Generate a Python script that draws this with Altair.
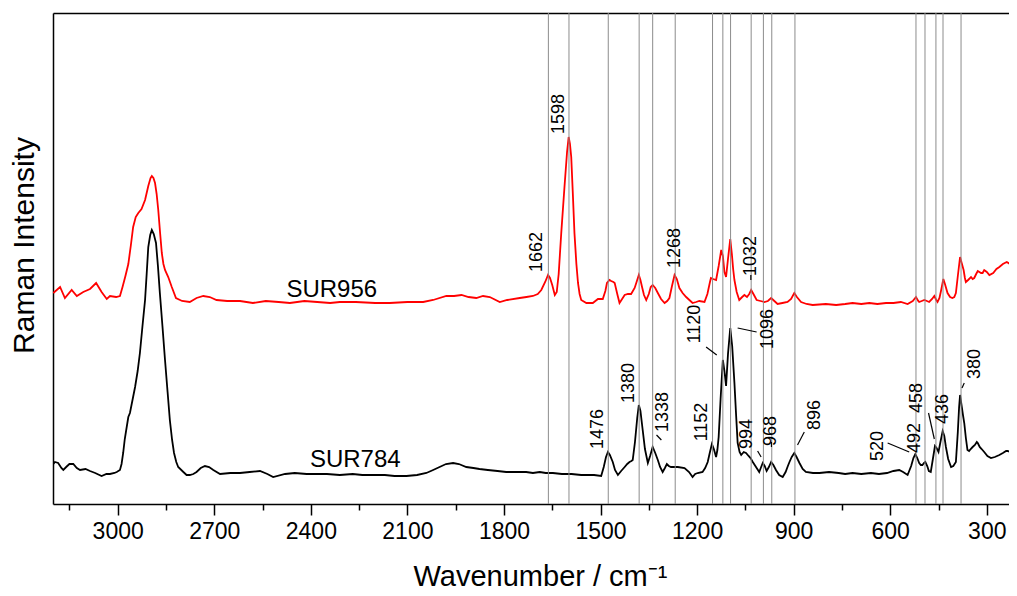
import altair as alt
import pandas as pd

FONT = "Liberation Sans, Arial, Helvetica, sans-serif"

# ---------------- spectra (wavenumber / cm-1, intensity in arbitrary units) ----------------
red_wn = [3200, 3179, 3164, 3143, 3127, 3107, 3086, 3067, 3050, 3034, 3024, 3005, 2993, 2985, 2976,
          2967, 2959, 2952, 2944, 2936, 2926, 2915, 2905, 2898, 2894, 2889, 2884, 2879, 2874, 2868,
          2863, 2858, 2853, 2843, 2832, 2819, 2800, 2776, 2755, 2734, 2714, 2693, 2660, 2620, 2580,
          2540, 2500, 2465, 2420, 2380, 2340, 2310, 2260, 2200, 2155, 2100, 2051, 2020, 1979, 1955,
          1932, 1910, 1886, 1865, 1844, 1813, 1790, 1751, 1730, 1710, 1695, 1684, 1672, 1663, 1657,
          1650, 1642, 1636, 1630, 1622, 1612, 1604, 1599, 1595, 1591, 1586, 1581, 1575, 1570, 1565,
          1560, 1544, 1524, 1508, 1493, 1485, 1480, 1472, 1467, 1460, 1456, 1448, 1441, 1433, 1425,
          1415, 1405, 1394, 1388, 1381, 1376, 1371, 1365, 1358, 1350, 1344, 1338, 1330, 1322, 1312,
          1301, 1293, 1286, 1278, 1270, 1263, 1255, 1245, 1234, 1224, 1214, 1203, 1193, 1177, 1168,
          1160, 1157, 1150, 1141, 1133, 1125, 1120, 1115, 1110, 1104, 1097, 1092, 1088, 1084, 1077,
          1069, 1060, 1053, 1045, 1038, 1032, 1025, 1015, 1003, 991, 980, 970, 960, 950, 935,
          919, 908, 898, 890, 877, 860, 841, 800, 768, 740, 717, 690, 665, 640, 613,
          590, 567, 546, 530, 520, 513, 510, 502, 494, 486, 479, 470, 463, 457, 453,
          447, 441, 435, 430, 422, 414, 407, 401, 396, 390, 383, 378, 372, 368, 365,
          358, 349, 344, 339, 333, 328, 323, 318, 313, 308, 300, 292, 280, 270, 261,
          250, 238, 228, 219, 207]
red_int = [211, 217, 206, 214, 208, 212, 215, 221, 212, 205, 208, 207, 208, 217, 228,
           240, 259, 277, 287, 291, 295, 304, 318, 326, 328, 326, 321, 310, 294, 270,
           251, 240, 234, 227, 217, 206, 203, 202, 206, 208, 207, 204, 203, 203, 201,
           203, 202, 201, 203, 202, 201, 202, 202, 201, 201, 202, 202, 204, 208, 208,
           209, 207, 206, 208, 207, 202, 204, 206, 207, 208, 210, 214, 222, 229, 226,
           219, 209, 212, 230, 271, 317, 352, 367, 360, 347, 310, 271, 240, 221, 210,
           204, 201, 201, 205, 205, 213, 221, 224, 223, 222, 221, 210, 201, 205, 209,
           210, 210, 216, 222, 229, 224, 217, 209, 204, 210, 217, 219, 216, 211, 205,
           201, 203, 206, 218, 229, 225, 216, 211, 207, 204, 201, 202, 203, 202, 210,
           222, 226, 225, 224, 238, 254, 248, 232, 227, 245, 265, 250, 235, 224, 212,
           204, 207, 209, 207, 210, 214, 210, 204, 203, 202, 203, 206, 203, 200, 201,
           202, 205, 211, 207, 202, 200, 199, 200, 199, 200, 201, 200, 201, 200, 201,
           201, 202, 200, 203, 207, 203, 202, 203, 204, 203, 202, 205, 208, 204, 202,
           206, 215, 225, 220, 211, 207, 206, 207, 211, 228, 247, 241, 234, 226, 222,
           224, 227, 225, 226, 230, 233, 232, 231, 231, 234, 232, 229, 231, 235, 237,
           240, 242, 240, 239, 239]

black_wn = [3200, 3195, 3185, 3175, 3169, 3160, 3150, 3138, 3127, 3117, 3100, 3086, 3070, 3050, 3035,
            3024, 3010, 3003, 2993, 2988, 2983, 2978, 2972, 2967, 2962, 2954, 2946, 2938, 2931, 2923,
            2915, 2910, 2905, 2899, 2894, 2888, 2881, 2875, 2869, 2861, 2853, 2845, 2838, 2831, 2825,
            2818, 2812, 2796, 2786, 2776, 2765, 2755, 2742, 2729, 2716, 2703, 2682, 2650, 2620, 2590,
            2558, 2535, 2517, 2480, 2450, 2413, 2380, 2350, 2310, 2270, 2240, 2207, 2170, 2140, 2103,
            2070, 2041, 2020, 2000, 1980, 1958, 1940, 1917, 1895, 1876, 1850, 1820, 1793, 1760, 1731,
            1710, 1689, 1670, 1648, 1620, 1590, 1560, 1544, 1520, 1498, 1490, 1483, 1477, 1471, 1462,
            1455, 1446, 1436, 1425, 1417, 1410, 1404, 1400, 1393, 1386, 1381, 1376, 1369, 1362, 1353,
            1346, 1338, 1330, 1322, 1315, 1307, 1300, 1294, 1288, 1281, 1260, 1239, 1225, 1214, 1206,
            1198, 1183, 1175, 1167, 1160, 1154, 1148, 1141, 1137, 1133, 1127, 1120, 1115, 1110, 1104,
            1097, 1091, 1084, 1079, 1074, 1068, 1063, 1055, 1048, 1040, 1034, 1027, 1017, 1007, 1001,
            996, 990, 984, 977, 970, 963, 955, 945, 934, 925, 918, 913, 906, 898, 891,
            882, 872, 862, 840, 820, 790, 760, 740, 717, 690, 660, 635, 610, 590, 572,
            560, 546, 535, 528, 522, 516, 510, 505, 500, 495, 491, 485, 480, 474, 468,
            461, 456, 450, 444, 437, 432, 427, 420, 411, 404, 396, 390, 386, 383, 379,
            374, 370, 365, 360, 355, 350, 344, 337, 331, 328, 322, 316, 308, 298, 287,
            275, 268, 261, 250, 240, 235, 228, 218, 207]
black_int = [40, 42, 41, 36, 34, 37, 40, 40, 36, 34, 35, 33, 31, 28, 30,
             30, 31, 32, 34, 40, 51, 65, 77, 87, 91, 104, 117, 133, 151, 178,
             204, 230, 257, 269, 274, 270, 261, 238, 211, 178, 144, 112, 84, 64, 51,
             42, 37, 32, 29, 29, 30, 32, 36, 38, 37, 34, 30, 31, 31, 32,
             33, 30, 27, 30, 31, 30, 30, 30, 29, 30, 29, 29, 29, 28, 28,
             29, 31, 34, 37, 40, 41, 40, 37, 36, 35, 34, 33, 32, 32, 32,
             31, 32, 31, 31, 30, 30, 29, 29, 29, 28, 37, 47, 52, 49, 42,
             34, 29, 33, 37, 40, 42, 43, 44, 62, 86, 99, 93, 74, 55, 41,
             48, 57, 51, 44, 37, 32, 36, 40, 38, 37, 37, 36, 32, 27, 30,
             31, 32, 36, 42, 52, 60, 55, 47, 54, 67, 105, 144, 133, 118, 150,
             176, 158, 121, 90, 61, 52, 49, 52, 51, 48, 46, 42, 37, 32, 37,
             41, 38, 33, 37, 42, 39, 34, 29, 27, 32, 38, 42, 47, 51, 47,
             41, 35, 32, 31, 31, 32, 31, 30, 31, 30, 31, 30, 31, 33, 34,
             32, 29, 38, 46, 50, 46, 41, 39, 39, 41, 42, 38, 33, 32, 44,
             58, 56, 52, 62, 73, 68, 57, 45, 37, 38, 42, 72, 97, 109, 100,
             89, 81, 66, 54, 53, 55, 57, 59, 62, 61, 57, 55, 52, 48, 46,
             47, 48, 49, 51, 53, 53, 52, 50, 49]

# ---------------- peak marker lines ----------------
peak_lines = [1662, 1598, 1476, 1380, 1338, 1268, 1152, 1120, 1096, 1032,
              994, 968, 896, 520, 492, 458, 436, 380]

# ---------------- peak labels ----------------
label_text = ["1662", "1598", "1268", "1032",
              "1476", "1380", "1338", "1152", "1120", "1096", "994", "968", "896",
              "520", "492", "458", "436", "380"]
label_wn = [1697, 1630, 1268, 1033,
            1508, 1413, 1307, 1186, 1206, 979, 1046, 969, 834,
            637, 523, 518, 435, 337]
label_int = [252, 390, 256, 248,
             75, 121, 92, 82, 180, 175, 70, 73, 89,
             58, 66, 106, 95, 140]

# leader lines (start -> end)
lead_wn = [1033, 1326, 1172, 1074, 1012, 969, 867, 608, 481, 370]
lead_int = [229, 69, 157, 176, 53, 62, 72, 61, 91, 121]
lead_wn2 = [1033, 1311, 1139, 1015, 1001, 969, 888, 541, 463, 377]
lead_int2 = [224, 64, 149, 172, 47, 57, 59, 52, 65, 116]

# sample names
sample_names = ["SUR956", "SUR784"]
sample_wn = [2335, 2262]
sample_int = [207, 37]

tick_values = [3150, 3000, 2850, 2700, 2550, 2400, 2250, 2100, 1950, 1800, 1650,
               1500, 1350, 1200, 1050, 900, 750, 600, 450, 300]

red_df = pd.DataFrame({"wn": red_wn, "I": red_int})
black_df = pd.DataFrame({"wn": black_wn, "I": black_int})
lines_df = pd.DataFrame({"wn": peak_lines})
labels_df = pd.DataFrame({"wn": label_wn, "I": label_int, "t": label_text})
lead_df = pd.DataFrame({"wn": lead_wn, "I": lead_int, "wn2": lead_wn2, "I2": lead_int2})
names_df = pd.DataFrame({"wn": sample_wn, "I": sample_int, "t": sample_names})

W, H = 956, 491
xscale = alt.Scale(domain=[231, 3201], reverse=True, nice=False, zero=False)
yscale = alt.Scale(domain=[0, 491], nice=False, zero=False)

xaxis = alt.Axis(
    values=tick_values, format="d",
    labelExpr="datum.value % 300 === 0 ? datum.label : ''",
    tickSize={"condition": {"test": "datum.value % 300 === 0", "value": 11}, "value": 6},
    tickColor="black", tickWidth=1.5, domainColor="black", domainWidth=1.5,
    labelFont=FONT, labelFontSize=23, labelColor="black", labelPadding=5,
    labelOverlap=False, labelFlush=False, grid=False,
    title="Wavenumber / cm⁻¹", titleFont=FONT, titleFontSize=29,
    titleFontWeight="normal", titleColor="black",
    titleX=487, titleY=81, titleAlign="center", titleBaseline="alphabetic",
)
yaxis = alt.Axis(
    labels=False, ticks=False, grid=False, domainColor="black", domainWidth=1.5,
    title="Raman Intensity", titleFont=FONT, titleFontSize=30,
    titleFontWeight="normal", titleColor="black", titleAngle=270,
    titleAlign="center", titleBaseline="middle", titleX=-29, titleY=232,
)
topaxis = alt.Axis(orient="top", labels=False, ticks=False, grid=False,
                   domainColor="black", domainWidth=1.5, title=None)

red = alt.Chart(red_df).mark_line(color="#ff0000", strokeWidth=1.8, clip=True).encode(
    x=alt.X("wn:Q", scale=xscale, axis=xaxis),
    y=alt.Y("I:Q", scale=yscale, axis=yaxis),
    order="wn:Q",
)
black = alt.Chart(black_df).mark_line(color="#000000", strokeWidth=1.8, clip=True).encode(
    x=alt.X("wn:Q", scale=xscale, axis=None),
    y=alt.Y("I:Q", scale=yscale, axis=yaxis),
    order="wn:Q",
)
vlines = alt.Chart(lines_df).mark_rule(color="#8c8c8c", strokeWidth=1).encode(
    x=alt.X("wn:Q", scale=xscale, axis=topaxis),
)
leads = alt.Chart(lead_df).mark_rule(color="black", strokeWidth=1.2).encode(
    x=alt.X("wn:Q", scale=xscale, axis=None), x2="wn2:Q",
    y=alt.Y("I:Q", scale=yscale, axis=yaxis), y2="I2:Q",
)
labels = alt.Chart(labels_df).mark_text(
    angle=270, align="center", baseline="middle", font=FONT, fontSize=18, color="black"
).encode(
    x=alt.X("wn:Q", scale=xscale, axis=None),
    y=alt.Y("I:Q", scale=yscale, axis=yaxis),
    text="t:N",
)
names = alt.Chart(names_df).mark_text(
    align="center", baseline="alphabetic", font=FONT, fontSize=24, color="black"
).encode(
    x=alt.X("wn:Q", scale=xscale, axis=None),
    y=alt.Y("I:Q", scale=yscale, axis=yaxis),
    text="t:N",
)

chart = alt.layer(red, black, vlines, leads, labels, names).resolve_axis(
    x="independent", y="shared"
).properties(
    width=W, height=H,
    autosize=alt.AutoSizeParams(type="none"),
    padding={"left": 45, "top": 5, "right": 0, "bottom": 89},
).configure_view(stroke=None)

chart.save("out.html", embed_options={"renderer": "svg", "actions": False})
